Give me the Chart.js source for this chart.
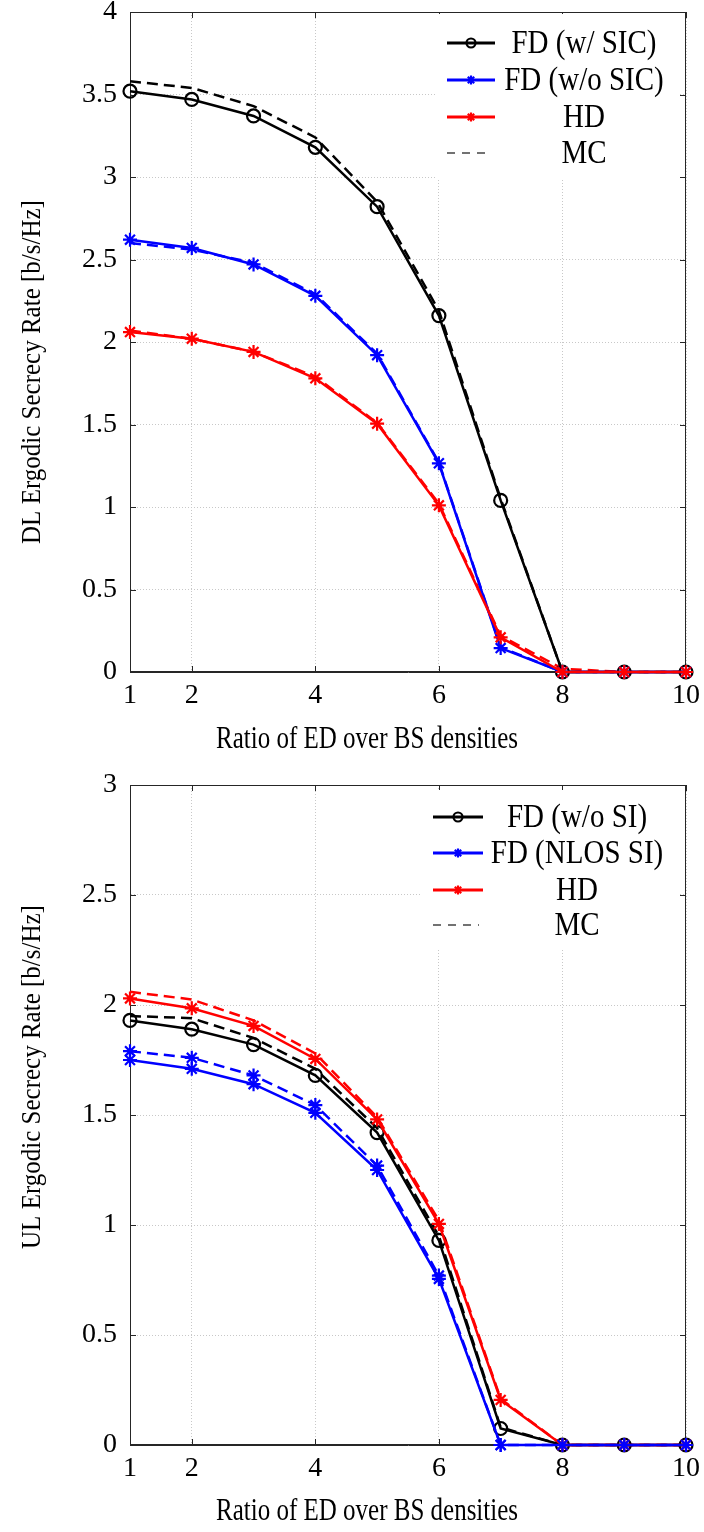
<!DOCTYPE html>
<html>
<head>
<meta charset="utf-8">
<script src="https://cdn.jsdelivr.net/npm/chart.js@4.4.0/dist/chart.umd.min.js"></script>
<style>
html, body { margin: 0; padding: 0; background: #fff; }
#wrap { position: relative; width: 704px; height: 1532px; }
canvas { position: absolute; left: 0; }
</style>
</head>
<body>
<div id="wrap">
  <canvas id="dlChart" width="704" height="766" style="top:0"></canvas>
  <canvas id="ulChart" width="704" height="766" style="top:766px"></canvas>
</div>
<script>
var xValues = [1, 2, 3, 4, 5, 6, 7, 8, 9, 10];
var xTicks = [1, 2, 4, 6, 8, 10];
var yTicksDL = [0, 0.5, 1, 1.5, 2, 2.5, 3, 3.5, 4];
var yTicksUL = [0, 0.5, 1, 1.5, 2, 2.5, 3];

// downlink
var dlLabels = ['FD (w/ SIC)', 'FD (w/o SIC)', 'HD', 'MC'];
var dlSic     = [3.52, 3.47, 3.37, 3.18, 2.82, 2.16, 1.04, 0, 0, 0];
var dlSicMC   = [3.58, 3.54, 3.43, 3.24, 2.85, 2.19, 1.05, 0, 0, 0];
var dlNoSic   = [2.62, 2.57, 2.47, 2.28, 1.92, 1.265, 0.145, 0, 0, 0];
var dlNoSicMC = [2.60, 2.56, 2.48, 2.29, 1.93, 1.27, 0.15, 0, 0, 0];
var dlHD      = [2.06, 2.02, 1.94, 1.78, 1.505, 1.01, 0.21, 0, 0, 0];
var dlHDMC    = [2.07, 2.02, 1.94, 1.79, 1.51, 1.02, 0.22, 0.02, 0, 0];

// uplink
var ulLabels = ['FD (w/o SI)', 'FD (NLOS SI)', 'HD', 'MC'];
var ulNoSi    = [1.93, 1.89, 1.82, 1.68, 1.42, 0.93, 0.075, 0, 0, 0];
var ulNoSiMC  = [1.95, 1.94, 1.85, 1.71, 1.44, 0.95, 0.08, 0, 0, 0];
var ulNlos    = [1.75, 1.71, 1.64, 1.51, 1.25, 0.755, 0, 0, 0, 0];
var ulNlosMC  = [1.79, 1.76, 1.68, 1.545, 1.27, 0.77, 0, 0, 0, 0];
var ulHD      = [2.03, 1.985, 1.905, 1.755, 1.48, 1.005, 0.205, 0, 0, 0];
var ulHDMC    = [2.06, 2.025, 1.93, 1.78, 1.49, 1.02, 0.21, 0, 0, 0];

var SERIF = '"Liberation Serif", "Times New Roman", serif';
var BLACK = '#000000', BLUE = '#0000ff', RED = '#ff0000';

function toPts(arr) {
    return arr.map(function (v, i) { return { x: xValues[i], y: v }; });
}

function curve(data, color, style, dashed, radius, order) {
    return {
        data: toPts(data),
        borderColor: color,
        backgroundColor: color,
        borderWidth: 2.5,
        borderDash: dashed ? [11, 6] : [],
        pointStyle: style || 'circle',
        pointRadius: style ? radius : 0,
        pointBorderWidth: 2.2,
        pointBorderColor: color,
        pointBackgroundColor: 'rgba(0,0,0,0)',
        tension: 0,
        clip: false,
        order: order
    };
}

function drawMarker(ctx, style, x, y, r, color) {
    ctx.save();
    ctx.strokeStyle = color;
    ctx.lineWidth = 2.2;
    ctx.beginPath();
    if (style === 'circle') {
        ctx.arc(x, y, r, 0, Math.PI * 2);
    } else if (style === 'star') {
        for (var k = 0; k < 4; k++) {
            var a = k * Math.PI / 4;
            ctx.moveTo(x - r * Math.cos(a), y - r * Math.sin(a));
            ctx.lineTo(x + r * Math.cos(a), y + r * Math.sin(a));
        }
    }
    ctx.stroke();
    ctx.restore();
}

// text stretched a little vertically, like the exported figure
function tallText(ctx, txt, x, y, sy) {
    ctx.save();
    ctx.translate(x, y);
    ctx.scale(1, sy);
    ctx.fillText(txt, 0, 0);
    ctx.restore();
}

// matlab style frame, inner ticks, legend and axis titles
var frameLook = {
    id: 'frameLook',
    beforeDatasetsDraw: function (chart, args, o) {
        var ctx = chart.ctx, a = chart.chartArea;
        var xs = chart.scales.x, ys = chart.scales.y;
        ctx.save();
        ctx.strokeStyle = '#262626';
        ctx.lineWidth = 1;
        ctx.strokeRect(a.left + 0.5, a.top + 0.5, a.right - a.left - 1, a.bottom - a.top - 1);
        ctx.beginPath();
        xs.ticks.forEach(function (t) {
            var px = Math.round(xs.getPixelForValue(t.value)) + 0.5;
            ctx.moveTo(px, a.bottom); ctx.lineTo(px, a.bottom - 6);
            ctx.moveTo(px, a.top); ctx.lineTo(px, a.top + 6);
        });
        ys.ticks.forEach(function (t) {
            var py = Math.round(ys.getPixelForValue(t.value)) + 0.5;
            ctx.moveTo(a.left, py); ctx.lineTo(a.left + 6, py);
            ctx.moveTo(a.right, py); ctx.lineTo(a.right - 6, py);
        });
        ctx.stroke();
        ctx.restore();
    },
    afterDraw: function (chart, args, o) {
        var ctx = chart.ctx;
        ctx.save();
        // legend
        var b = o.box;
        ctx.fillStyle = '#ffffff';
        ctx.fillRect(b[0], b[1], b[2] - b[0], b[3] - b[1]);
        var cols = [BLACK, BLUE, RED];
        var marks = ['circle', 'star', 'star'];
        o.labels.forEach(function (lab, i) {
            var y = o.rows[i];
            if (i < 3) {
                ctx.strokeStyle = cols[i];
                ctx.lineWidth = 3;
                ctx.setLineDash([]);
                ctx.beginPath();
                ctx.moveTo(o.lineX[0], y); ctx.lineTo(o.lineX[1], y);
                ctx.stroke();
                drawMarker(ctx, marks[i], (o.lineX[0] + o.lineX[1]) / 2, y, 4.5, cols[i]);
            } else {
                ctx.strokeStyle = '#444444';
                ctx.lineWidth = 1.5;
                ctx.setLineDash([8, 7]);
                ctx.beginPath();
                ctx.moveTo(o.lineX[0], y); ctx.lineTo(o.lineX[1] - 4, y);
                ctx.stroke();
                ctx.setLineDash([]);
            }
            ctx.fillStyle = '#000';
            ctx.font = '29px ' + SERIF;
            ctx.textAlign = 'center';
            ctx.textBaseline = 'middle';
            tallText(ctx, lab, o.textX, y + 1, 1.15);
        });
        // axis titles
        ctx.fillStyle = '#000';
        ctx.font = '25px ' + SERIF;
        ctx.textAlign = 'center';
        ctx.textBaseline = 'alphabetic';
        tallText(ctx, o.xTitle, o.xTitlePos[0], o.xTitlePos[1], 1.25);
        ctx.translate(o.yTitlePos[0], o.yTitlePos[1]);
        ctx.rotate(-Math.PI / 2);
        tallText(ctx, o.yTitle, 0, 0, 1.12);
        ctx.restore();
    }
};

function makeChart(id, datasets, yTicks, yMax, padTop, xAxisH, look) {
    return new Chart(document.getElementById(id), {
        type: 'line',
        data: { datasets: datasets },
        options: {
            responsive: false,
            animation: false,
            devicePixelRatio: 1,
            layout: { padding: { left: 0, right: 18, top: padTop, bottom: 0 } },
            plugins: {
                legend: { display: false },
                tooltip: { enabled: false },
                frameLook: look
            },
            scales: {
                x: {
                    type: 'linear',
                    min: 1,
                    max: 10,
                    afterBuildTicks: function (s) { s.ticks = xTicks.map(function (v) { return { value: v }; }); },
                    afterFit: function (s) { s.height = xAxisH; s.paddingLeft = 0; s.paddingRight = 0; },
                    grid: { color: '#c8c8c8', lineWidth: 1, drawTicks: false },
                    border: { color: '#262626', width: 1, dash: [1, 2] },
                    ticks: {
                        color: '#000', padding: 7, maxRotation: 0, autoSkip: false,
                        font: { family: SERIF, size: 28 },
                        callback: function (v) { return String(v); }
                    }
                },
                y: {
                    type: 'linear',
                    min: 0,
                    max: yMax,
                    afterBuildTicks: function (s) { s.ticks = yTicks.map(function (v) { return { value: v }; }); },
                    afterFit: function (s) { s.width = 130; s.paddingTop = 0; s.paddingBottom = 0; },
                    grid: { color: '#c8c8c8', lineWidth: 1, drawTicks: false },
                    border: { color: '#262626', width: 1, dash: [1, 2] },
                    ticks: {
                        color: '#000', padding: 13,
                        font: { family: SERIF, size: 28 },
                        callback: function (v) { return String(v); }
                    }
                }
            }
        },
        plugins: [frameLook]
    });
}

makeChart('dlChart', [
    curve(dlSic, BLACK, 'circle', false, 6.5, 3),
    curve(dlNoSic, BLUE, 'star', false, 7, 2),
    curve(dlHD, RED, 'star', false, 7, 1),
    curve(dlSicMC, BLACK, null, true, 0, 6),
    curve(dlNoSicMC, BLUE, null, true, 0, 5),
    curve(dlHDMC, RED, null, true, 0, 4)
], yTicksDL, 4, 12, 94, {
    labels: dlLabels,
    box: [435, 14, 680, 178],
    rows: [43, 80, 117, 153],
    lineX: [447, 495],
    textX: 584,
    xTitle: 'Ratio of ED over BS densities',
    xTitlePos: [367, 748],
    yTitle: 'DL Ergodic Secrecy Rate [b/s/Hz]',
    yTitlePos: [40, 372]
});

makeChart('ulChart', [
    curve(ulNoSi, BLACK, 'circle', false, 6.5, 3),
    curve(ulNlos, BLUE, 'star', false, 7, 1),
    curve(ulHD, RED, 'star', false, 7, 2),
    curve(ulNoSiMC, BLACK, null, true, 0, 6),
    curve(ulNlosMC, BLUE, 'star', true, 7, 4),
    curve(ulHDMC, RED, null, true, 0, 5)
], yTicksUL, 3, 19, 87, {
    labels: ulLabels,
    box: [422, 24, 680, 184],
    rows: [51, 87, 124, 159],
    lineX: [433, 483],
    textX: 577,
    xTitle: 'Ratio of ED over BS densities',
    xTitlePos: [367, 754],
    yTitle: 'UL Ergodic Secrecy Rate [b/s/Hz]',
    yTitlePos: [40, 311]
});
</script>
</body>
</html>
